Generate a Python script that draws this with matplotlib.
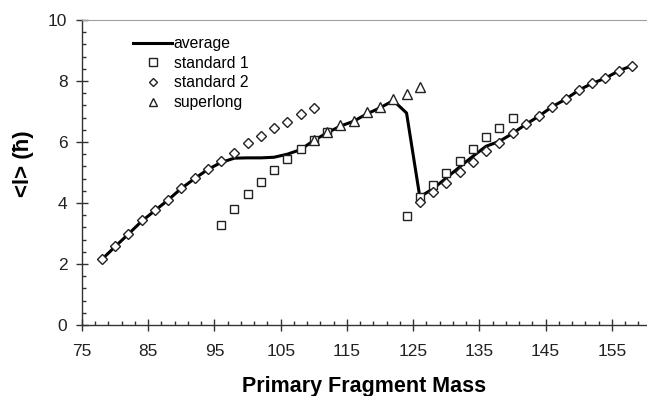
# plot.py
# 碎片质量 - 平均角动量图
import matplotlib
matplotlib.use('Agg')
import matplotlib.pyplot as plt
from matplotlib.ticker import FixedLocator
import numpy as np

plt.rcParams['font.family'] = ['Liberation Sans', 'DejaVu Sans']

###########数据###########
avg_x = [78, 80, 82, 84, 86, 88, 90, 92, 94, 96, 98, 100, 102, 104, 106, 108, 110, 112, 114,
         116, 118, 120, 122, 124, 126, 128, 130, 132, 134, 136, 138, 140, 142, 144, 146, 148,
         150, 152, 154, 156, 158]
avg_y = [2.15, 2.57, 2.98, 3.40, 3.75, 4.10, 4.48, 4.80, 5.10, 5.33, 5.47, 5.48, 5.48, 5.50,
         5.60, 5.75, 6.05, 6.30, 6.52, 6.68, 6.92, 7.12, 7.36, 6.95, 4.20, 4.47, 4.82, 5.18,
         5.53, 5.86, 6.02, 6.28, 6.58, 6.85, 7.16, 7.40, 7.70, 7.92, 8.09, 8.33, 8.50]

std1_x = [96, 98, 100, 102, 104, 106, 108, 110, 112, 124, 126, 128, 130, 132, 134, 136, 138, 140]
std1_y = [3.28, 3.80, 4.30, 4.69, 5.08, 5.44, 5.77, 6.07, 6.33, 3.57, 4.20, 4.59, 5.00, 5.39,
          5.77, 6.15, 6.47, 6.78]

std2_x = [78, 80, 82, 84, 86, 88, 90, 92, 94, 96, 98, 100, 102, 104, 106, 108, 110,
          126, 128, 130, 132, 134, 136, 138, 140, 142, 144, 146, 148, 150, 152, 154, 156, 158]
std2_y = [2.16, 2.59, 3.00, 3.44, 3.77, 4.10, 4.50, 4.82, 5.13, 5.37, 5.65, 5.96, 6.20, 6.45,
          6.66, 6.92, 7.11, 4.03, 4.37, 4.66, 5.03, 5.36, 5.69, 5.98, 6.28, 6.58, 6.85, 7.16,
          7.40, 7.70, 7.92, 8.09, 8.33, 8.50]

slong_x = [110, 112, 114, 116, 118, 120, 122, 124, 126]
slong_y = [6.07, 6.33, 6.56, 6.69, 6.98, 7.15, 7.41, 7.57, 7.80]

###########绘图###########
fig = plt.figure(figsize=(6.47, 3.96), dpi=100)
ax = fig.add_axes([82 / 647, 1 - 325 / 396, 1 - 82 / 647, 305 / 396])

ax.plot(avg_x, avg_y, color='black', lw=2.2, zorder=2, label='average')
ax.plot(std1_x, std1_y, ls='none', marker='s', ms=6.3, mfc='white', mec='#222222', mew=1.0,
        zorder=3, label='standard 1')
ax.plot(std2_x, std2_y, ls='none', marker='D', ms=4.8, mfc='white', mec='#222222', mew=1.0,
        zorder=4, label='standard 2')
ax.plot(slong_x, slong_y, ls='none', marker='^', ms=7, mfc='white', mec='#222222', mew=1.0,
        zorder=3, label='superlong')

ax.set_xlim(75, 160.3)
ax.set_ylim(0, 10)
ax.set_xticks(np.arange(75, 160, 10))
ax.xaxis.set_minor_locator(FixedLocator(np.arange(77, 161, 2)))
ax.set_yticks(np.arange(0, 11, 2))
ax.yaxis.set_minor_locator(FixedLocator(np.arange(0, 10.01, 0.4)))

ax.spines['right'].set_visible(False)
ax.spines['top'].set_color('#a0a0a0')
for s in ['left', 'bottom']:
    ax.spines[s].set_color('#333333')
    ax.spines[s].set_linewidth(1.0)
ax.tick_params(which='major', direction='inout', length=8, width=1, color='#333333',
               labelsize=12.5, labelcolor='#222222')
ax.tick_params(axis='x', which='major', pad=10)
ax.tick_params(axis='y', which='major', pad=6.5)
ax.tick_params(which='minor', direction='in', length=3, width=1, color='#333333')
ax.tick_params(axis='x', which='both', top=False)
ax.tick_params(axis='y', which='both', right=False)

fig.text(364 / 647, 1 - 392 / 396, 'Primary Fragment Mass', ha='center', va='baseline',
         fontsize=15.5, fontweight='bold')
fig.text(23 / 647, 1 - 164 / 396, '<l> (ħ)', ha='center', va='center', rotation=90,
         fontsize=16, fontweight='bold')

leg = ax.legend(loc='upper left', bbox_to_anchor=(133 / 647, 1 - 36 / 396),
                bbox_transform=fig.transFigure, frameon=False, fontsize=11.3,
                handlelength=2.5, handletextpad=0.1, labelspacing=0.3, markerscale=0.85,
                borderpad=0, borderaxespad=0)

fig.savefig('out.png', dpi=100)
